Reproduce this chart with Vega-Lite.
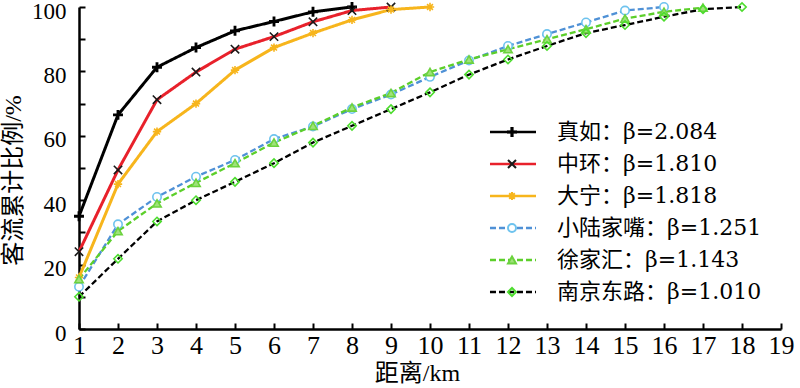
{
  "$schema": "https://vega.github.io/schema/vega-lite/v6.json",
  "width": 702,
  "height": 322,
  "autosize": "none",
  "padding": {"left": 79, "top": 7, "right": 19, "bottom": 59},
  "background": "white",
  "config": {"view": {"stroke": null}, "font": "Liberation Serif, Noto Sans CJK SC"},
  "data": {"values": [
    {"s": "真如：β=2.084", "d": 1, "p": 35},
    {"s": "真如：β=2.084", "d": 2, "p": 66.5},
    {"s": "真如：β=2.084", "d": 3, "p": 81.3},
    {"s": "真如：β=2.084", "d": 4, "p": 87.4},
    {"s": "真如：β=2.084", "d": 5, "p": 92.6},
    {"s": "真如：β=2.084", "d": 6, "p": 95.5},
    {"s": "真如：β=2.084", "d": 7, "p": 98.5},
    {"s": "真如：β=2.084", "d": 8, "p": 100},
    {"s": "中环：β=1.810", "d": 1, "p": 24},
    {"s": "中环：β=1.810", "d": 2, "p": 49.4},
    {"s": "中环：β=1.810", "d": 3, "p": 71.2},
    {"s": "中环：β=1.810", "d": 4, "p": 79.8},
    {"s": "中环：β=1.810", "d": 5, "p": 86.9},
    {"s": "中环：β=1.810", "d": 6, "p": 90.8},
    {"s": "中环：β=1.810", "d": 7, "p": 95.4},
    {"s": "中环：β=1.810", "d": 8, "p": 98.9},
    {"s": "中环：β=1.810", "d": 9, "p": 100},
    {"s": "大宁：β=1.818", "d": 1, "p": 16},
    {"s": "大宁：β=1.818", "d": 2, "p": 45},
    {"s": "大宁：β=1.818", "d": 3, "p": 61.3},
    {"s": "大宁：β=1.818", "d": 4, "p": 70},
    {"s": "大宁：β=1.818", "d": 5, "p": 80.4},
    {"s": "大宁：β=1.818", "d": 6, "p": 87.4},
    {"s": "大宁：β=1.818", "d": 7, "p": 91.9},
    {"s": "大宁：β=1.818", "d": 8, "p": 96},
    {"s": "大宁：β=1.818", "d": 9, "p": 99.2},
    {"s": "大宁：β=1.818", "d": 10, "p": 100},
    {"s": "小陆家嘴：β=1.251", "d": 1, "p": 13.1},
    {"s": "小陆家嘴：β=1.251", "d": 2, "p": 32.5},
    {"s": "小陆家嘴：β=1.251", "d": 3, "p": 41},
    {"s": "小陆家嘴：β=1.251", "d": 4, "p": 47.3},
    {"s": "小陆家嘴：β=1.251", "d": 5, "p": 52.5},
    {"s": "小陆家嘴：β=1.251", "d": 6, "p": 59},
    {"s": "小陆家嘴：β=1.251", "d": 7, "p": 62.9},
    {"s": "小陆家嘴：β=1.251", "d": 8, "p": 68.3},
    {"s": "小陆家嘴：β=1.251", "d": 9, "p": 72.8},
    {"s": "小陆家嘴：β=1.251", "d": 10, "p": 78.3},
    {"s": "小陆家嘴：β=1.251", "d": 11, "p": 83.4},
    {"s": "小陆家嘴：β=1.251", "d": 12, "p": 87.9},
    {"s": "小陆家嘴：β=1.251", "d": 13, "p": 91.6},
    {"s": "小陆家嘴：β=1.251", "d": 14, "p": 95.2},
    {"s": "小陆家嘴：β=1.251", "d": 15, "p": 98.9},
    {"s": "小陆家嘴：β=1.251", "d": 16, "p": 100},
    {"s": "徐家汇：β=1.143", "d": 1, "p": 15.5},
    {"s": "徐家汇：β=1.143", "d": 2, "p": 30.4},
    {"s": "徐家汇：β=1.143", "d": 3, "p": 39},
    {"s": "徐家汇：β=1.143", "d": 4, "p": 45.4},
    {"s": "徐家汇：β=1.143", "d": 5, "p": 51.5},
    {"s": "徐家汇：β=1.143", "d": 6, "p": 57.9},
    {"s": "徐家汇：β=1.143", "d": 7, "p": 63.1},
    {"s": "徐家汇：β=1.143", "d": 8, "p": 68.8},
    {"s": "徐家汇：β=1.143", "d": 9, "p": 73.3},
    {"s": "徐家汇：β=1.143", "d": 10, "p": 79.8},
    {"s": "徐家汇：β=1.143", "d": 11, "p": 83.7},
    {"s": "徐家汇：β=1.143", "d": 12, "p": 86.9},
    {"s": "徐家汇：β=1.143", "d": 13, "p": 90},
    {"s": "徐家汇：β=1.143", "d": 14, "p": 93.1},
    {"s": "徐家汇：β=1.143", "d": 15, "p": 96.4},
    {"s": "徐家汇：β=1.143", "d": 16, "p": 98.5},
    {"s": "徐家汇：β=1.143", "d": 17, "p": 99.8},
    {"s": "南京东路：β=1.010", "d": 1, "p": 10},
    {"s": "南京东路：β=1.010", "d": 2, "p": 21.8},
    {"s": "南京东路：β=1.010", "d": 3, "p": 33.4},
    {"s": "南京东路：β=1.010", "d": 4, "p": 40},
    {"s": "南京东路：β=1.010", "d": 5, "p": 45.7},
    {"s": "南京东路：β=1.010", "d": 6, "p": 51.5},
    {"s": "南京东路：β=1.010", "d": 7, "p": 57.9},
    {"s": "南京东路：β=1.010", "d": 8, "p": 63.1},
    {"s": "南京东路：β=1.010", "d": 9, "p": 68.3},
    {"s": "南京东路：β=1.010", "d": 10, "p": 73.5},
    {"s": "南京东路：β=1.010", "d": 11, "p": 79},
    {"s": "南京东路：β=1.010", "d": 12, "p": 83.7},
    {"s": "南京东路：β=1.010", "d": 13, "p": 87.9},
    {"s": "南京东路：β=1.010", "d": 14, "p": 91.9},
    {"s": "南京东路：β=1.010", "d": 15, "p": 94.4},
    {"s": "南京东路：β=1.010", "d": 16, "p": 97},
    {"s": "南京东路：β=1.010", "d": 17, "p": 99.3},
    {"s": "南京东路：β=1.010", "d": 18, "p": 100}
  ]},
  "encoding": {
    "x": {
      "field": "d", "type": "quantitative",
      "scale": {"domain": [1, 19], "nice": false, "zero": false},
      "axis": {
        "title": "距离/km",
        "values": [1,2,3,4,5,6,7,8,9,10,11,12,13,14,15,16,17,18,19],
        "grid": false, "labelFlush": false, "labelOverlap": false,
        "labelFont": "Liberation Serif", "labelFontSize": 26, "labelColor": "black",
        "labelPadding": 9, "tickSize": -6, "tickWidth": 2, "tickColor": "black",
        "domainColor": "black", "domainWidth": 2.5,
        "titleFont": "Liberation Serif, Noto Sans CJK SC", "titleFontSize": 24,
        "titleFontWeight": "normal", "titleColor": "black",
        "titleBaseline": "middle",
        "titleX": 338, "titleY": 44
      }
    },
    "y": {
      "field": "p", "type": "quantitative",
      "scale": {"domain": [0, 100], "nice": false},
      "axis": {
        "title": "客流累计比例/%",
        "values": [0,10,20,30,40,50,60,70,80,90,100],
        "labelExpr": "datum.value % 20 == 0 ? datum.label : ''",
        "grid": false, "labelOverlap": false, "labelFlush": false,
        "labelFont": "Liberation Serif", "labelFontSize": 23, "labelColor": "black",
        "labelPadding": 19, "labelOffset": 4, "tickSize": -6, "tickWidth": 2, "tickColor": "black",
        "domainColor": "black", "domainWidth": 2.5,
        "titleFont": "Liberation Serif, Noto Sans CJK SC", "titleFontSize": 24,
        "titleFontWeight": "normal", "titleColor": "black",
        "titleBaseline": "middle",
        "titleX": -66, "titleY": 173
      }
    }
  },
  "layer": [
    {
      "mark": {"type": "line"},
      "encoding": {
        "color": {
          "field": "s", "type": "nominal", "sort": null,
          "scale": {"range": ["#000000", "#e8212b", "#f7b51c", "#4f91d6", "#5ccf2a", "#000000"]},
          "legend": {
            "orient": "none", "legendX": 423, "legendY": 114, "title": null,
            "symbolType": "M-7.67,0H7.67", "symbolSize": 36, "symbolStrokeWidth": 2.6,
            "labelFont": "DejaVu Serif, Noto Sans CJK SC", "labelFontSize": 22,
            "labelColor": "black", "labelOffset": 33, "rowPadding": 10, "labelLimit": 400
          }
        },
        "strokeDash": {
          "field": "s", "type": "nominal", "sort": null,
          "scale": {"range": [[1, 0], [1, 0], [1, 0], [6, 3], [6, 3], [6, 3]]}
        },
        "strokeWidth": {
          "condition": {"test": "indexof(['真如：β=2.084','中环：β=1.810','大宁：β=1.818'], datum.s) >= 0", "value": 3},
          "value": 2.3
        }
      }
    },
    {
      "mark": {"type": "point", "opacity": 1, "strokeWidth": 1.6, "size": 70},
      "encoding": {
        "shape": {
          "field": "s", "type": "nominal",
          "scale": {
            "domain": ["真如：β=2.084", "中环：β=1.810", "大宁：β=1.818", "小陆家嘴：β=1.251", "徐家汇：β=1.143", "南京东路：β=1.010"],
            "range": ["M-0.15,-1H0.15V-0.15H1V0.15H0.15V1H-0.15V0.15H-1V-0.15H-0.15Z", "M-1,-1L1,1M-1,1L1,-1", "M-1,0L1,0M0,-1L0,1M-0.7,-0.7L0.7,0.7M-0.7,0.7L0.7,-0.7", "circle", "triangle-up", "diamond"]
          },
          "legend": {
            "orient": "none", "legendX": 422, "legendY": 114, "title": null,
            "symbolSize": 64, "symbolStrokeWidth": 2,
            "labelFont": "DejaVu Serif, Noto Sans CJK SC", "labelFontSize": 22,
            "labelOpacity": 0, "labelOffset": 33, "rowPadding": 10, "labelLimit": 400
          }
        },
        "stroke": {
          "field": "s", "type": "nominal",
          "scale": {
            "domain": ["真如：β=2.084", "中环：β=1.810", "大宁：β=1.818", "小陆家嘴：β=1.251", "徐家汇：β=1.143", "南京东路：β=1.010"],
            "range": ["#000000", "#1a1a1a", "#f7b51c", "#6ec3ee", "#6cd23e", "#4ddc2e"]
          }
        },
        "fill": {
          "field": "s", "type": "nominal",
          "scale": {
            "domain": ["真如：β=2.084", "中环：β=1.810", "大宁：β=1.818", "小陆家嘴：β=1.251", "徐家汇：β=1.143", "南京东路：β=1.010"],
            "range": ["#000000", "transparent", "transparent", "#ffffff", "#9fe27a", "transparent"]
          }
        }
      }
    }
  ]
}
